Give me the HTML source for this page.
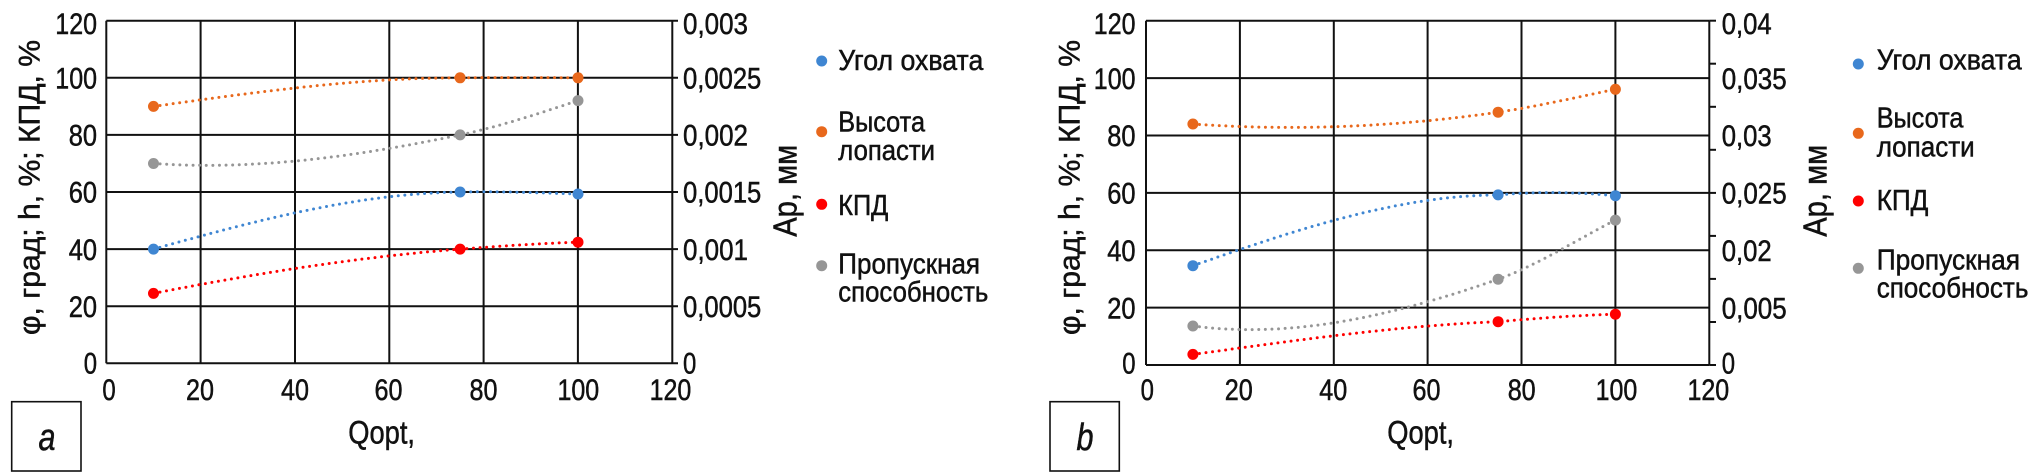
<!DOCTYPE html>
<html><head><meta charset="utf-8"><style>
html,body{margin:0;padding:0;background:#fff;}
svg{display:block;}
text{font-family:"Liberation Sans","DejaVu Sans",sans-serif;fill:#111;stroke:#111;stroke-width:0.5px;}
</style></head><body>
<svg width="2041" height="472" viewBox="0 0 2041 472" xmlns="http://www.w3.org/2000/svg">
<rect width="2041" height="472" fill="#fff"/>
<!-- ===== Chart a grid ===== -->
<g stroke="#111" stroke-width="2" fill="none">
<line x1="106.3" y1="20.7" x2="678" y2="20.7"/>
<line x1="106.3" y1="77.8" x2="678" y2="77.8"/>
<line x1="106.3" y1="134.9" x2="678" y2="134.9"/>
<line x1="106.3" y1="192.0" x2="678" y2="192.0"/>
<line x1="106.3" y1="249.1" x2="678" y2="249.1"/>
<line x1="106.3" y1="306.2" x2="678" y2="306.2"/>
<line x1="106.3" y1="363.3" x2="678" y2="363.3"/>
<line x1="106.3" y1="20.7" x2="106.3" y2="363.3"/>
<line x1="200.6" y1="20.7" x2="200.6" y2="363.3"/>
<line x1="295.0" y1="20.7" x2="295.0" y2="363.3"/>
<line x1="389.3" y1="20.7" x2="389.3" y2="363.3"/>
<line x1="483.6" y1="20.7" x2="483.6" y2="363.3"/>
<line x1="577.9" y1="20.7" x2="577.9" y2="363.3"/>
<line x1="672.3" y1="20.7" x2="672.3" y2="363.3"/>
</g>
<!-- ===== Chart b grid ===== -->
<g stroke="#111" stroke-width="2" fill="none">
<line x1="1146" y1="20.7" x2="1709.3" y2="20.7"/>
<line x1="1146" y1="78.1" x2="1709.3" y2="78.1"/>
<line x1="1146" y1="135.5" x2="1709.3" y2="135.5"/>
<line x1="1146" y1="192.9" x2="1709.3" y2="192.9"/>
<line x1="1146" y1="250.2" x2="1709.3" y2="250.2"/>
<line x1="1146" y1="307.6" x2="1709.3" y2="307.6"/>
<line x1="1146" y1="365" x2="1709.3" y2="365"/>
<line x1="1709.3" y1="20.7" x2="1716" y2="20.7"/>
<line x1="1709.3" y1="63.7" x2="1716" y2="63.7"/>
<line x1="1709.3" y1="106.8" x2="1716" y2="106.8"/>
<line x1="1709.3" y1="149.8" x2="1716" y2="149.8"/>
<line x1="1709.3" y1="192.9" x2="1716" y2="192.9"/>
<line x1="1709.3" y1="235.9" x2="1716" y2="235.9"/>
<line x1="1709.3" y1="278.9" x2="1716" y2="278.9"/>
<line x1="1709.3" y1="322.0" x2="1716" y2="322.0"/>
<line x1="1709.3" y1="365" x2="1716" y2="365"/>
<line x1="1146" y1="20.7" x2="1146" y2="365"/>
<line x1="1239.9" y1="20.7" x2="1239.9" y2="365"/>
<line x1="1333.8" y1="20.7" x2="1333.8" y2="365"/>
<line x1="1427.6" y1="20.7" x2="1427.6" y2="365"/>
<line x1="1521.5" y1="20.7" x2="1521.5" y2="365"/>
<line x1="1615.4" y1="20.7" x2="1615.4" y2="365"/>
<line x1="1709.3" y1="20.7" x2="1709.3" y2="365"/>
</g>

<!-- ===== Series chart a ===== -->
<g fill="none" stroke-width="3" stroke-linecap="round" stroke-dasharray="0 6.6">
<path stroke="#E8681C" d="M153.5,106.4 C255.8,92.1 357.7,77.8 460.1,77.8 C499.2,77.5 538.9,77.5 578,77.8"/>
<path stroke="#969696" d="M153.5,163.5 C255.8,170.6 357.7,156.3 460.1,134.9 C499.2,126.6 538.9,113.5 578,100.6"/>
<path stroke="#3F86D2" d="M153.5,249.1 C255.8,220.6 357.7,193.4 460.1,192.0 C499.2,191.1 538.9,192.9 578,194.0"/>
<path stroke="#FF0000" d="M153.5,293.4 C255.8,273.4 357.7,257.1 460.1,249.1 C499.2,246.3 538.9,243.4 578,242.2"/>
</g>
<g>
<circle cx="153.5" cy="106.4" r="5.5" fill="#E8681C"/>
<circle cx="460.1" cy="77.8" r="5.5" fill="#E8681C"/>
<circle cx="578" cy="77.8" r="5.5" fill="#E8681C"/>
<circle cx="153.5" cy="163.5" r="5.5" fill="#969696"/>
<circle cx="460.1" cy="134.9" r="5.5" fill="#969696"/>
<circle cx="578" cy="100.6" r="5.5" fill="#969696"/>
<circle cx="153.5" cy="249.1" r="5.5" fill="#3F86D2"/>
<circle cx="460.1" cy="192.0" r="5.5" fill="#3F86D2"/>
<circle cx="578" cy="194.0" r="5.5" fill="#3F86D2"/>
<circle cx="153.5" cy="293.4" r="5.5" fill="#FF0000"/>
<circle cx="460.1" cy="249.1" r="5.5" fill="#FF0000"/>
<circle cx="578" cy="242.2" r="5.5" fill="#FF0000"/>
</g>

<!-- ===== Series chart b ===== -->
<g fill="none" stroke-width="3" stroke-linecap="round" stroke-dasharray="0 6.6">
<path stroke="#E8681C" d="M1192.9,124.0 C1294.8,131.2 1396.2,126.9 1498.1,112.2 C1537,106.5 1576.4,97.3 1615.4,89.3"/>
<path stroke="#969696" d="M1192.9,326.0 C1294.8,339.2 1396.2,314.8 1498.1,279.2 C1537,265.5 1576.4,239.9 1615.4,220.1"/>
<path stroke="#3F86D2" d="M1192.9,265.7 C1294.8,230.2 1396.2,195.7 1498.1,194.9 C1537,191.4 1576.4,192.0 1615.4,195.7"/>
<path stroke="#FF0000" d="M1192.9,354.4 C1294.8,340.6 1396.2,325.7 1498.1,321.7 C1537,318.2 1576.4,315.4 1615.4,314.2"/>
</g>
<g>
<circle cx="1192.9" cy="124.0" r="5.5" fill="#E8681C"/>
<circle cx="1498.1" cy="112.2" r="5.5" fill="#E8681C"/>
<circle cx="1615.4" cy="89.3" r="5.5" fill="#E8681C"/>
<circle cx="1192.9" cy="326.0" r="5.5" fill="#969696"/>
<circle cx="1498.1" cy="279.2" r="5.5" fill="#969696"/>
<circle cx="1615.4" cy="220.1" r="5.5" fill="#969696"/>
<circle cx="1192.9" cy="265.7" r="5.5" fill="#3F86D2"/>
<circle cx="1498.1" cy="194.9" r="5.5" fill="#3F86D2"/>
<circle cx="1615.4" cy="195.7" r="5.5" fill="#3F86D2"/>
<circle cx="1192.9" cy="354.4" r="5.5" fill="#FF0000"/>
<circle cx="1498.1" cy="321.7" r="5.5" fill="#FF0000"/>
<circle cx="1615.4" cy="314.2" r="5.5" fill="#FF0000"/>
</g>

<!-- ===== Chart a labels ===== -->
<g font-size="30" text-anchor="end">
<text x="97" y="34" textLength="41.7" lengthAdjust="spacingAndGlyphs">120</text>
<text x="97" y="88.5" textLength="41.7" lengthAdjust="spacingAndGlyphs">100</text>
<text x="97" y="145.6" textLength="28.3" lengthAdjust="spacingAndGlyphs">80</text>
<text x="97" y="202.7" textLength="28.3" lengthAdjust="spacingAndGlyphs">60</text>
<text x="97" y="259.8" textLength="28.3" lengthAdjust="spacingAndGlyphs">40</text>
<text x="97" y="316.9" textLength="28.3" lengthAdjust="spacingAndGlyphs">20</text>
<text x="97" y="373.5" textLength="13.3" lengthAdjust="spacingAndGlyphs">0</text>
</g>
<g font-size="30" text-anchor="start">
<text x="683" y="34" textLength="65" lengthAdjust="spacingAndGlyphs">0,003</text>
<text x="683" y="88.5" textLength="78.3" lengthAdjust="spacingAndGlyphs">0,0025</text>
<text x="683" y="145.6" textLength="65" lengthAdjust="spacingAndGlyphs">0,002</text>
<text x="683" y="202.7" textLength="78.3" lengthAdjust="spacingAndGlyphs">0,0015</text>
<text x="683" y="259.8" textLength="65" lengthAdjust="spacingAndGlyphs">0,001</text>
<text x="683" y="316.9" textLength="78.3" lengthAdjust="spacingAndGlyphs">0,0005</text>
<text x="683" y="373.5" textLength="13.3" lengthAdjust="spacingAndGlyphs">0</text>
</g>
<g font-size="30" text-anchor="middle">
<text x="109" y="400" textLength="13.3" lengthAdjust="spacingAndGlyphs">0</text>
<text x="200" y="400" textLength="28" lengthAdjust="spacingAndGlyphs">20</text>
<text x="295" y="400" textLength="28" lengthAdjust="spacingAndGlyphs">40</text>
<text x="388.5" y="400" textLength="28" lengthAdjust="spacingAndGlyphs">60</text>
<text x="483.5" y="400" textLength="28" lengthAdjust="spacingAndGlyphs">80</text>
<text x="578.3" y="400" textLength="41.7" lengthAdjust="spacingAndGlyphs">100</text>
<text x="670.5" y="400" textLength="41.7" lengthAdjust="spacingAndGlyphs">120</text>
</g>
<text x="348.3" y="443.3" font-size="32" textLength="66.7" lengthAdjust="spacingAndGlyphs">Qopt,</text>
<text transform="translate(39.5,187.5) rotate(-90)" font-size="30" text-anchor="middle" textLength="295" lengthAdjust="spacingAndGlyphs">φ, град; h, %; КПД, %</text>
<text transform="translate(796.7,190.8) rotate(-90)" font-size="33" text-anchor="middle" textLength="92" lengthAdjust="spacingAndGlyphs">Ар, мм</text>
<rect x="11.7" y="401.7" width="69.3" height="69.3" fill="none" stroke="#111" stroke-width="1.6"/>
<text x="47" y="450" font-size="38" font-style="italic" text-anchor="middle" textLength="17" lengthAdjust="spacingAndGlyphs">a</text>

<!-- legend a -->
<circle cx="821.7" cy="61" r="5.5" fill="#3F86D2"/>
<circle cx="821.7" cy="131.7" r="5.5" fill="#E8681C"/>
<circle cx="821.7" cy="204.3" r="5.5" fill="#FF0000"/>
<circle cx="821.7" cy="265.7" r="5.5" fill="#969696"/>
<g font-size="29">
<text x="838.3" y="70" textLength="145" lengthAdjust="spacingAndGlyphs">Угол охвата</text>
<text x="838.3" y="131.7" textLength="86.7" lengthAdjust="spacingAndGlyphs">Высота</text>
<text x="838.3" y="160" textLength="96.7" lengthAdjust="spacingAndGlyphs">лопасти</text>
<text x="838.3" y="215" textLength="50" lengthAdjust="spacingAndGlyphs">КПД</text>
<text x="838.3" y="273.3" textLength="141.7" lengthAdjust="spacingAndGlyphs">Пропускная</text>
<text x="838.3" y="301.7" textLength="150" lengthAdjust="spacingAndGlyphs">способность</text>
</g>

<!-- ===== Chart b labels ===== -->
<g font-size="30" text-anchor="end">
<text x="1135.5" y="34" textLength="41.7" lengthAdjust="spacingAndGlyphs">120</text>
<text x="1135.5" y="88.8" textLength="41.7" lengthAdjust="spacingAndGlyphs">100</text>
<text x="1135.5" y="146.2" textLength="28.3" lengthAdjust="spacingAndGlyphs">80</text>
<text x="1135.5" y="203.6" textLength="28.3" lengthAdjust="spacingAndGlyphs">60</text>
<text x="1135.5" y="260.9" textLength="28.3" lengthAdjust="spacingAndGlyphs">40</text>
<text x="1135.5" y="318.3" textLength="28.3" lengthAdjust="spacingAndGlyphs">20</text>
<text x="1135.5" y="373.5" textLength="13.3" lengthAdjust="spacingAndGlyphs">0</text>
</g>
<g font-size="30" text-anchor="start">
<text x="1721.7" y="34" textLength="50" lengthAdjust="spacingAndGlyphs">0,04</text>
<text x="1721.7" y="88.8" textLength="65" lengthAdjust="spacingAndGlyphs">0,035</text>
<text x="1721.7" y="146.2" textLength="50" lengthAdjust="spacingAndGlyphs">0,03</text>
<text x="1721.7" y="203.6" textLength="65" lengthAdjust="spacingAndGlyphs">0,025</text>
<text x="1721.7" y="260.9" textLength="50" lengthAdjust="spacingAndGlyphs">0,02</text>
<text x="1721.7" y="318.3" textLength="65" lengthAdjust="spacingAndGlyphs">0,005</text>
<text x="1721.7" y="373.5" textLength="13.3" lengthAdjust="spacingAndGlyphs">0</text>
</g>
<g font-size="30" text-anchor="middle">
<text x="1147.3" y="400" textLength="13.3" lengthAdjust="spacingAndGlyphs">0</text>
<text x="1238.8" y="400" textLength="28" lengthAdjust="spacingAndGlyphs">20</text>
<text x="1333.3" y="400" textLength="28" lengthAdjust="spacingAndGlyphs">40</text>
<text x="1426.5" y="400" textLength="28" lengthAdjust="spacingAndGlyphs">60</text>
<text x="1521.7" y="400" textLength="28" lengthAdjust="spacingAndGlyphs">80</text>
<text x="1616.5" y="400" textLength="41.7" lengthAdjust="spacingAndGlyphs">100</text>
<text x="1708.3" y="400" textLength="41.7" lengthAdjust="spacingAndGlyphs">120</text>
</g>
<text x="1387.3" y="443.3" font-size="32" textLength="66.7" lengthAdjust="spacingAndGlyphs">Qopt,</text>
<text transform="translate(1079.3,187.5) rotate(-90)" font-size="30" text-anchor="middle" textLength="295" lengthAdjust="spacingAndGlyphs">φ, град; h, %; КПД, %</text>
<text transform="translate(1826.7,190.8) rotate(-90)" font-size="33" text-anchor="middle" textLength="92" lengthAdjust="spacingAndGlyphs">Ар, мм</text>
<rect x="1050" y="401.7" width="69.3" height="69.3" fill="none" stroke="#111" stroke-width="1.6"/>
<text x="1085" y="450" font-size="38" font-style="italic" text-anchor="middle" textLength="17" lengthAdjust="spacingAndGlyphs">b</text>

<!-- legend b -->
<circle cx="1858.3" cy="64" r="5.5" fill="#3F86D2"/>
<circle cx="1858.3" cy="133.3" r="5.5" fill="#E8681C"/>
<circle cx="1858.3" cy="201" r="5.5" fill="#FF0000"/>
<circle cx="1858.3" cy="268.3" r="5.5" fill="#969696"/>
<g font-size="29">
<text x="1876.7" y="69.3" textLength="145" lengthAdjust="spacingAndGlyphs">Угол охвата</text>
<text x="1876.7" y="127.7" textLength="86.7" lengthAdjust="spacingAndGlyphs">Высота</text>
<text x="1876.7" y="156.7" textLength="98" lengthAdjust="spacingAndGlyphs">лопасти</text>
<text x="1876.7" y="210" textLength="51.7" lengthAdjust="spacingAndGlyphs">КПД</text>
<text x="1876.7" y="269.3" textLength="143.3" lengthAdjust="spacingAndGlyphs">Пропускная</text>
<text x="1876.7" y="297.7" textLength="151.7" lengthAdjust="spacingAndGlyphs">способность</text>
</g>
</svg>
</body></html>
